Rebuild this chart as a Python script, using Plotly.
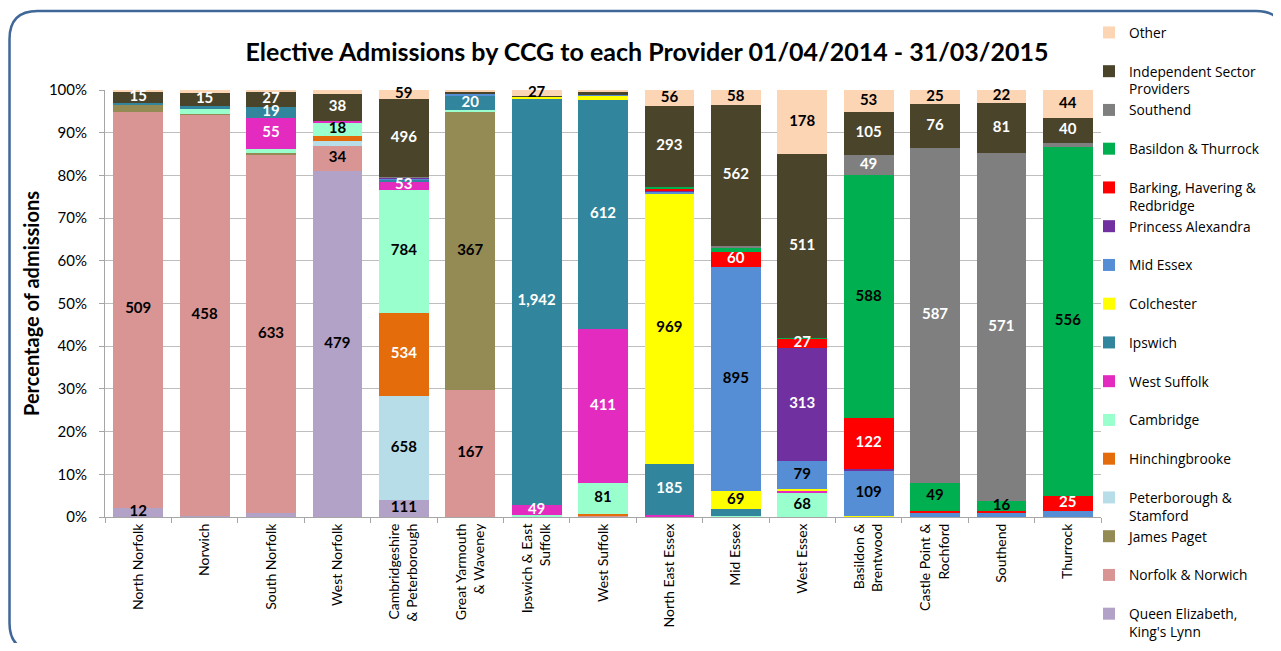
import plotly.graph_objects as go

ccgs = ["North Norfolk", "Norwich", "South Norfolk", "West Norfolk",
        "Cambridgeshire<br>& Peterborough", "Great Yarmouth<br>& Waveney",
        "Ipswich & East<br>Suffolk", "West Suffolk", "North East Essex", "Mid Essex",
        "West Essex", "Basildon &<br>Brentwood", "Castle Point &<br>Rochford",
        "Southend", "Thurrock"]

# provider names (bottom of stack first)
providers = ["Queen Elizabeth,<br>King's Lynn", "Norfolk & Norwich", "James Paget",
             "Peterborough &<br>Stamford", "Hinchingbrooke", "Cambridge", "West Suffolk",
             "Ipswich", "Colchester", "Mid Essex", "Princess Alexandra",
             "Barking, Havering &<br>Redbridge", "Basildon & Thurrock", "Southend",
             "Independent Sector<br>Providers", "Other"]

# admissions per CCG (same order as ccgs)
qe_kings_lynn = [12, 1, 7, 479, 111, 0, 0, 0, 0, 0, 0, 0, 0, 0, 0]
norfolk_norwich = [509, 458, 633, 34, 0, 167, 3, 4, 0, 0, 0, 0, 0, 0, 0]
james_paget = [9, 1, 2, 0, 0, 367, 0, 0, 0, 0, 0, 0, 0, 0, 0]
peterborough = [0, 0, 0, 7, 658, 0, 0, 0, 0, 0, 0, 0, 0, 0, 0]
hinchingbrooke = [0, 0, 0, 7, 534, 0, 0, 5, 0, 0, 0, 0, 0, 0, 0]
cambridge = [0, 5, 8, 18, 784, 2, 5, 81, 3, 5, 68, 0, 0, 0, 0]
west_suffolk = [0, 0, 55, 3, 53, 0, 49, 411, 3, 0, 5, 0, 0, 0, 0]
ipswich = [2, 4, 19, 0, 12, 20, 1942, 612, 185, 28, 0, 0, 0, 0, 0]
colchester = [0, 0, 0, 0, 3, 0, 8, 12, 969, 69, 4, 2, 0, 0, 0]
mid_essex = [0, 0, 0, 0, 5, 2, 3, 2, 6, 895, 79, 109, 7, 7, 9]
princess_alexandra = [0, 0, 0, 0, 3, 0, 0, 0, 3, 0, 313, 6, 0, 0, 0]
barking_havering = [0, 0, 0, 0, 0, 0, 0, 0, 9, 60, 27, 122, 4, 3, 25]
basildon_thurrock = [0, 0, 0, 0, 3, 0, 0, 0, 4, 15, 2, 588, 49, 16, 556]
southend = [0, 0, 0, 0, 3, 0, 0, 0, 0, 8, 0, 49, 587, 571, 7]
independent = [15, 15, 27, 38, 496, 3, 2, 8, 293, 562, 511, 105, 76, 81, 40]
other = [2, 3, 3, 5, 59, 2, 27, 5, 56, 58, 178, 53, 25, 22, 44]

# which segments carry a data label (1 = labelled)
lab_qe = [1, 0, 0, 1, 1, 0, 0, 0, 0, 0, 0, 0, 0, 0, 0]
lab_nn = [1, 1, 1, 1, 0, 1, 0, 0, 0, 0, 0, 0, 0, 0, 0]
lab_jp = [0, 0, 0, 0, 0, 1, 0, 0, 0, 0, 0, 0, 0, 0, 0]
lab_ps = [0, 0, 0, 0, 1, 0, 0, 0, 0, 0, 0, 0, 0, 0, 0]
lab_hi = [0, 0, 0, 0, 1, 0, 0, 0, 0, 0, 0, 0, 0, 0, 0]
lab_ca = [0, 0, 0, 1, 1, 0, 0, 1, 0, 0, 1, 0, 0, 0, 0]
lab_ws = [0, 0, 1, 0, 1, 0, 1, 1, 0, 0, 0, 0, 0, 0, 0]
lab_ip = [0, 0, 1, 0, 0, 1, 1, 1, 1, 0, 0, 0, 0, 0, 0]
lab_co = [0, 0, 0, 0, 0, 0, 0, 0, 1, 1, 0, 0, 0, 0, 0]
lab_me = [0, 0, 0, 0, 0, 0, 0, 0, 0, 1, 1, 1, 0, 0, 0]
lab_pa = [0, 0, 0, 0, 0, 0, 0, 0, 0, 0, 1, 0, 0, 0, 0]
lab_bh = [0, 0, 0, 0, 0, 0, 0, 0, 0, 1, 1, 1, 0, 0, 1]
lab_bt = [0, 0, 0, 0, 0, 0, 0, 0, 0, 0, 0, 1, 1, 1, 1]
lab_so = [0, 0, 0, 0, 0, 0, 0, 0, 0, 0, 0, 1, 1, 1, 0]
lab_is = [1, 1, 1, 1, 1, 0, 0, 0, 1, 1, 1, 1, 1, 1, 1]
lab_ot = [0, 0, 0, 0, 1, 0, 1, 0, 1, 1, 1, 1, 1, 1, 1]

values = [qe_kings_lynn, norfolk_norwich, james_paget, peterborough, hinchingbrooke,
          cambridge, west_suffolk, ipswich, colchester, mid_essex, princess_alexandra,
          barking_havering, basildon_thurrock, southend, independent, other]
labels = [lab_qe, lab_nn, lab_jp, lab_ps, lab_hi, lab_ca, lab_ws, lab_ip, lab_co,
          lab_me, lab_pa, lab_bh, lab_bt, lab_so, lab_is, lab_ot]

colors = ["#B3A2C7", "#D99594", "#948A54", "#B7DEE8", "#E46C0A", "#99FFCC",
          "#E42BBF", "#31859C", "#FFFF00", "#558ED5", "#7030A0", "#FF0000",
          "#00B050", "#7F7F7F", "#4A452A", "#FCD5B5"]
label_colors = ["black", "black", "black", "black", "white", "black", "white",
                "white", "black", "black", "white", "white", "black", "white",
                "white", "black"]

FONT = "Lato"
fig = go.Figure()

totals = [sum(v[i] for v in values) for i in range(len(ccgs))]

for name, vals, col in zip(providers, values, colors):
    legend_name = name if "<br>" in name else name + "<br> "
    fig.add_trace(go.Bar(x=ccgs, y=vals, name=legend_name, marker_color=col,
                         marker_line_width=0, hoverinfo="skip"))

# data labels at the middle of each labelled segment
cum = [0] * len(ccgs)
for vals, labs, tcol in zip(values, labels, label_colors):
    xs, ys, ts = [], [], []
    for i, v in enumerate(vals):
        if labs[i]:
            xs.append(ccgs[i])
            ys.append((cum[i] + v / 2) / totals[i] * 100)
            ts.append(f"{v:,}")
        cum[i] += v
    fig.add_trace(go.Scatter(x=xs, y=ys, text=ts, mode="text", showlegend=False,
                             hoverinfo="skip", cliponaxis=False,
                             textfont=dict(family=FONT, size=15, color=tcol,
                                           weight="bold")))

W, H = 1265, 635
ML, MR, MT, MB = 97, 172, 82, 126
pw, ph = W - ML - MR, H - MT - MB


def px(x):
    return (x - ML) / pw


def py(y):
    return (H - MB - y) / ph


# rounded chart border
x0, y0, x1, y1, r = 1.5, 3, 1276, 643, 28
path = (f"M {px(x0 + r)},{py(y0)} L {px(x1 - r)},{py(y0)} "
        f"Q {px(x1)},{py(y0)} {px(x1)},{py(y0 + r)} "
        f"L {px(x1)},{py(y1 - r)} Q {px(x1)},{py(y1)} {px(x1 - r)},{py(y1)} "
        f"L {px(x0 + r)},{py(y1)} Q {px(x0)},{py(y1)} {px(x0)},{py(y1 - r)} "
        f"L {px(x0)},{py(y0 + r)} Q {px(x0)},{py(y0)} {px(x0 + r)},{py(y0)} Z")

fig.update_layout(
    width=W, height=H,
    margin=dict(l=ML, r=MR, t=MT, b=MB, autoexpand=False),
    barmode="stack", barnorm="percent", bargap=0.25,
    paper_bgcolor="white", plot_bgcolor="white",
    font=dict(family=FONT, color="black"),
    title=dict(text="<b>Elective Admissions by CCG to each Provider 01/04/2014 - 31/03/2015</b>",
               x=639 / W, xanchor="center", xref="container", y=1 - 44 / H,
               yanchor="middle", yref="container",
               font=dict(family=FONT, size=25, color="black")),
    legend=dict(x=1081 / W, xanchor="left", xref="container",
                y=1 - 9 / H, yanchor="top", yref="container", maxheight=640,
                traceorder="reversed", valign="top", tracegroupgap=0,
                font=dict(family="Open Sans", size=13.75, color="black"),
                bgcolor="rgba(0,0,0,0)"),
    shapes=[dict(type="path", path=path, xref="paper", yref="paper",
                 line=dict(color="#3F6797", width=2.5), layer="above")],
)
fig.update_xaxes(range=[-0.5, len(ccgs) - 0.5], showgrid=False, showline=True,
                 linecolor="#A6A6A6", linewidth=1,
                 ticks="outside", tickson="boundaries", ticklen=5, tickcolor="#A6A6A6",
                 tickangle=-90, tickfont=dict(family=FONT, size=14, color="black"))
fig.update_yaxes(range=[0, 100], dtick=10, ticksuffix="%", showgrid=True,
                 gridcolor="#BEBEBE", gridwidth=1, showline=True, linecolor="#A6A6A6",
                 ticks="outside", ticklen=5, tickcolor="#A6A6A6", ticklabelstandoff=9,
                 tickfont=dict(family=FONT, size=15, color="black"),
                 title=dict(text="<b>Percentage of admissions</b>", standoff=3,
                            font=dict(family=FONT, size=20, color="black")))

fig.write_html("out.html")
